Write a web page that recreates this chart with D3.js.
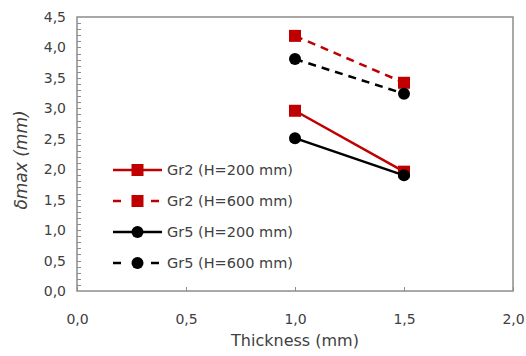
<!DOCTYPE html>
<html>
<head>
<meta charset="utf-8">
<script src="https://cdn.jsdelivr.net/npm/d3@7"></script>
<style>
  body { margin: 0; background: #fff; }
  text { font-family: "DejaVu Sans", sans-serif; fill: #404040; }
</style>
</head>
<body>
<div id="chart"></div>
<script>
// data
var thickness = [1.0, 1.5];
var gr2H200 = [2.96, 1.96];
var gr2H600 = [4.19, 3.42];
var gr5H200 = [2.51, 1.90];
var gr5H600 = [3.81, 3.24];
var xTicks = [0, 0.5, 1.0, 1.5, 2.0];
var yTicks = [0, 0.5, 1.0, 1.5, 2.0, 2.5, 3.0, 3.5, 4.0, 4.5];

var series = [
    {name: "Gr2 (H=200 mm)", values: gr2H200, color: "#c00000", dash: null, marker: "square"},
    {name: "Gr2 (H=600 mm)", values: gr2H600, color: "#c00000", dash: "8,6", marker: "square"},
    {name: "Gr5 (H=200 mm)", values: gr5H200, color: "#000000", dash: null, marker: "circle"},
    {name: "Gr5 (H=600 mm)", values: gr5H600, color: "#000000", dash: "8,6", marker: "circle"}
];

var width = 526, height = 356;
var plotLeft = 77, plotRight = 513, plotTop = 17, plotBottom = 291;

var fmt = function (d) { return d3.format(".1f")(d).replace(".", ","); };

var x = d3.scaleLinear().domain([0, 2]).range([plotLeft, plotRight]);
var y = d3.scaleLinear().domain([0, 4.5]).range([plotBottom, plotTop]);

var svg = d3.select("#chart").append("svg")
    .attr("width", width)
    .attr("height", height);

// plot frame
svg.append("rect")
    .attr("x", plotLeft).attr("y", plotTop)
    .attr("width", plotRight - plotLeft).attr("height", plotBottom - plotTop)
    .attr("fill", "none").attr("stroke", "#8c8c8c").attr("stroke-width", 1.5);

// y minor ticks (inside)
svg.append("g").selectAll("line")
    .data(d3.range(1, 45).map(function (i) { return i / 10; }))
    .join("line")
    .attr("x1", plotLeft).attr("x2", plotLeft + 4)
    .attr("y1", d => Math.round(y(d)) + 0.5).attr("y2", d => Math.round(y(d)) + 0.5)
    .attr("stroke", "#8c8c8c");

// y axis labels
var yAxis = d3.axisLeft(y).tickValues(yTicks).tickSize(0).tickPadding(11).tickFormat(fmt);
var gy = svg.append("g").attr("transform", "translate(" + plotLeft + ",0)").call(yAxis);
gy.select(".domain").remove();
gy.selectAll("text").style("font-size", "14px").style("font-family", "'DejaVu Sans', sans-serif").attr("fill", "#404040");

// x axis labels + inside ticks
var xAxis = d3.axisTop(x).tickValues(xTicks).tickSize(4).tickPadding(-27).tickFormat(fmt);
var gx = svg.append("g").attr("transform", "translate(0," + plotBottom + ")").call(xAxis);
gx.select(".domain").remove();
gx.selectAll("line").attr("stroke", "#8c8c8c");
gx.selectAll("text").style("font-size", "14px").style("font-family", "'DejaVu Sans', sans-serif").attr("fill", "#404040").attr("dy", "0.71em");

// axis titles
svg.append("text")
    .attr("x", (plotLeft + plotRight) / 2).attr("y", 346)
    .attr("text-anchor", "middle")
    .style("font-size", "16px")
    .text("Thickness (mm)");

svg.append("text")
    .attr("transform", "translate(27,160) rotate(-90)")
    .attr("text-anchor", "middle")
    .style("font-size", "17px")
    .style("font-style", "italic")
    .text("δmax (mm)");

var line = d3.line()
    .x(function (d, i) { return x(thickness[i]); })
    .y(function (d) { return y(d); });

function drawMarker(g, s, cx, cy) {
    if (s.marker === "square") {
        g.append("rect").attr("x", cx - 6).attr("y", cy - 6)
            .attr("width", 12).attr("height", 12).attr("fill", s.color);
    } else {
        g.append("circle").attr("cx", cx).attr("cy", cy).attr("r", 6).attr("fill", s.color);
    }
}

series.forEach(function (s) {
    var g = svg.append("g");
    g.append("path")
        .datum(s.values)
        .attr("d", line)
        .attr("fill", "none")
        .attr("stroke", s.color)
        .attr("stroke-width", 2.5)
        .attr("stroke-dasharray", s.dash);
    s.values.forEach(function (v, i) {
        drawMarker(g, s, x(thickness[i]), y(v));
    });
});

// legend
var legend = svg.append("g");
series.forEach(function (s, i) {
    var ly = 170 + i * 31;
    var g = legend.append("g");
    g.append("line")
        .attr("x1", 113).attr("x2", 162)
        .attr("y1", ly).attr("y2", ly)
        .attr("stroke", s.color).attr("stroke-width", 2.5)
        .attr("stroke-dasharray", s.dash ? "8,11" : null);
    drawMarker(g, s, 137.5, ly);
    g.append("text")
        .attr("x", 167).attr("y", ly)
        .attr("dy", "0.35em")
        .style("font-size", "14.5px")
        .text(s.name);
});
</script>
</body>
</html>
